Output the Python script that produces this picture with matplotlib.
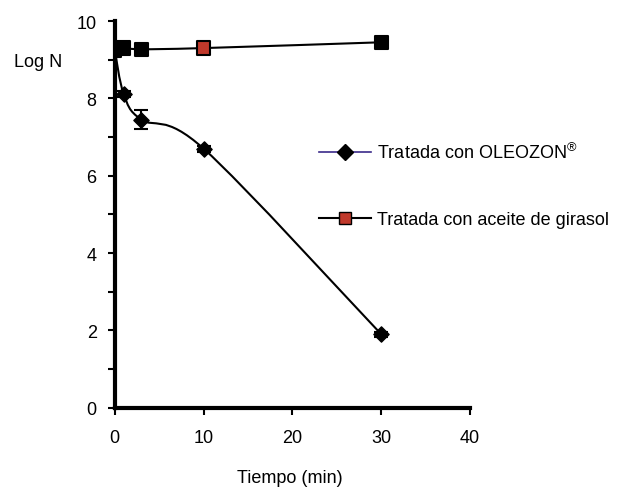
import matplotlib
matplotlib.use("Agg")
import matplotlib.pyplot as plt
from matplotlib.path import Path
from matplotlib.patches import PathPatch
from matplotlib.lines import Line2D
import numpy as np

plt.rcParams['font.family'] = ['Liberation Sans', 'DejaVu Sans']
plt.rcParams['mathtext.fontset'] = 'custom'
plt.rcParams['mathtext.rm'] = 'Liberation Sans'
plt.rcParams['mathtext.default'] = 'regular'

tiempo = [0, 1, 3, 10, 30]
oleozon = [9.25, 8.12, 7.45, 6.7, 1.9]
oleozon_err = [0.05, 0.08, 0.25, 0.08, 0.06]
girasol = [9.25, 9.3, 9.27, 9.3, 9.45]
girasol_err = [0.05, 0.06, 0.05, 0.05, 0.04]
girasol_colors = ['black', 'black', 'black', '#c0392b', 'black']

x_ticks = [0, 10, 20, 30, 40]
y_ticks = [0, 2, 4, 6, 8, 10]

fig = plt.figure(figsize=(6.17, 4.89), dpi=100)
ax = fig.add_axes([0.186, 0.164, 0.576, 0.791])


def smooth_path(xs, ys):
    pts = np.column_stack([xs, ys]).astype(float)
    n = len(pts)
    verts = [pts[0]]
    codes = [Path.MOVETO]
    for i in range(n - 1):
        p0 = pts[i - 1] if i > 0 else pts[i]
        p1 = pts[i]
        p2 = pts[i + 1]
        p3 = pts[i + 2] if i + 2 < n else pts[i + 1]
        c1 = p1 + (p2 - p0) / 6.0
        c2 = p2 - (p3 - p1) / 6.0
        verts += [c1, c2, p2]
        codes += [Path.CURVE4] * 3
    return Path(verts, codes)


ax.add_patch(PathPatch(smooth_path(tiempo, oleozon), fill=False, lw=1.5, ec='black', zorder=2))
ax.add_patch(PathPatch(smooth_path(tiempo, girasol), fill=False, lw=1.5, ec='black', zorder=2))

ax.errorbar(tiempo, oleozon, yerr=oleozon_err, fmt='none', ecolor='black', elinewidth=1.5, capsize=5, capthick=1.5, zorder=3)
ax.errorbar(tiempo, girasol, yerr=girasol_err, fmt='none', ecolor='black', elinewidth=1.5, capsize=5, capthick=1.5, zorder=3)
ax.scatter(tiempo, oleozon, marker='D', s=60, c='black', zorder=4)
ax.scatter(tiempo, girasol, marker='s', s=90, c=girasol_colors, edgecolors='black', linewidths=1.5, zorder=5)

ax.set_xlim(0, 40)
ax.set_ylim(0, 10)
ax.set_xticks(x_ticks)
ax.set_yticks(y_ticks)
ax.set_yticks(np.arange(0, 11, 1), minor=True)
ax.tick_params(axis='both', which='both', direction='out', width=1.5, length=5, labelsize=13)
ax.tick_params(axis='x', pad=10)
ax.tick_params(axis='y', pad=8)
for s in ['top', 'right']:
    ax.spines[s].set_visible(False)
for s in ['left', 'bottom']:
    ax.spines[s].set_linewidth(3)

fig.text(0.022, 0.873, 'Log N', fontsize=13, ha='left', va='center')
fig.text(0.47, 0.022, 'Tiempo (min)', fontsize=13, ha='center', va='center')

handles = [
    Line2D([], [], color='#3b2a8a', lw=1.2, marker='D', markersize=8, markerfacecolor='black', markeredgecolor='black'),
    Line2D([], [], color='black', lw=1.5, marker='s', markersize=8, markerfacecolor='#c0392b', markeredgecolor='black'),
]
labels = ['Tratada con OLEOZON$^{\u00ae}$', 'Tratada con aceite de girasol']
leg = fig.legend(handles, labels, loc='upper left', bbox_to_anchor=(0.517, 0.707), frameon=False,
                 fontsize=13, handlelength=2.9, handletextpad=0.3, labelspacing=2.7,
                 borderaxespad=0, borderpad=0)

fig.savefig('out.png', dpi=100)
